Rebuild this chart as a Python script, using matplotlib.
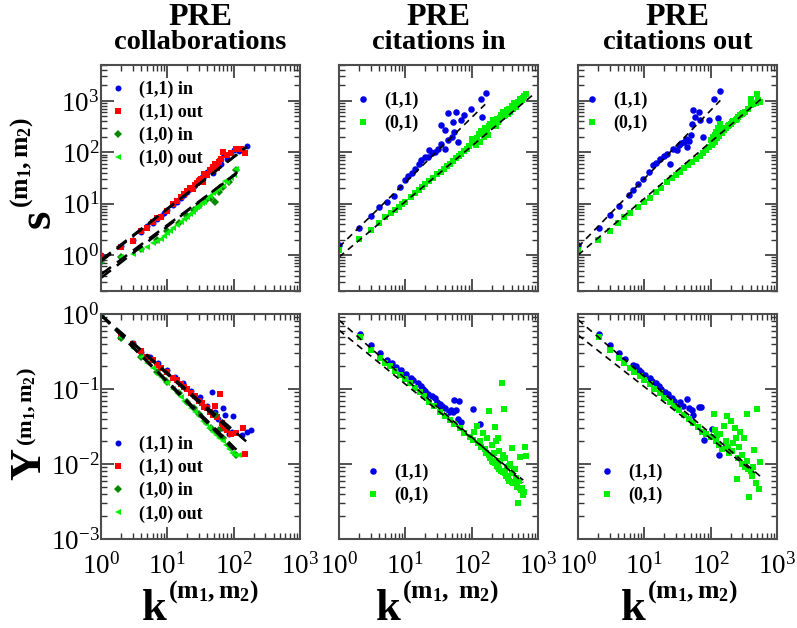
import numpy as np
import matplotlib.pyplot as plt

plt.rcParams['font.family'] = 'Liberation Serif'
plt.rcParams['mathtext.fontset'] = 'custom'
plt.rcParams['mathtext.rm'] = 'Liberation Serif'
plt.rcParams['mathtext.it'] = 'Liberation Serif:italic'
plt.rcParams['mathtext.bf'] = 'Liberation Serif:bold'

BLUE = '#0000e6'
RED = '#ff0000'
DKGREEN = '#008800'
LTGREEN = '#00f000'

# ---------------- top left: collaborations, s vs k ----------------
col_s11in_k = [1, 2, 3, 4, 5, 6, 7, 8, 9, 10, 12, 14, 16, 18, 20, 22, 25, 28, 30, 33,
               36, 40, 44, 48, 52, 56, 60, 65, 70, 80, 100, 120, 160]
col_s11in_s = [1.0, 1.5, 2.0, 2.8, 3.6, 4.3, 5.0, 5.8, 6.5, 7.5, 9.5, 11, 13, 15, 17, 19, 22, 26, 30, 33,
               35, 42, 48, 40, 55, 62, 70, 58, 95, 75, 110, 105, 130]
col_s11out_k = [1, 2, 3, 4, 5, 6, 7, 8, 10, 12, 14, 16, 18, 20, 22, 24, 26, 28, 30, 32,
                34, 36, 40, 44, 48, 52, 56, 60, 65, 70, 80, 90, 110, 130, 150]
col_s11out_s = [0.95, 1.45, 1.9, 2.9, 3.4, 4.4, 5.2, 5.6, 7.2, 9.8, 11.5, 13.5, 15.5, 18, 20, 19, 23, 25, 28, 30,
                27, 38, 36, 45, 52, 58, 50, 66, 75, 100, 88, 95, 115, 118, 95]
col_s10in_k = [1, 2, 4, 7, 10, 15, 20, 25, 30, 38, 45, 52, 60, 70, 85, 110]
col_s10in_s = [0.75, 0.9, 1.3, 2.0, 2.9, 4.2, 5.8, 7.5, 9.0, 12, 13, 10.8, 17, 21, 26, 45]
col_s10out_k = [1, 2, 3, 4, 5, 6, 7, 8, 9, 10, 11, 12, 14, 16, 18, 20, 22, 24, 26, 28,
                30, 33, 36, 40, 44, 48, 52, 56, 60, 65, 70, 75, 80, 90, 100, 110]
col_s10out_s = [0.8, 0.92, 1.05, 1.25, 1.45, 1.7, 1.9, 2.1, 2.4, 2.7, 3.0, 3.3, 3.8, 4.5, 5.0, 5.6, 6.3, 7.0, 7.8, 8.5,
                9.2, 10.5, 11, 13, 14, 16, 18, 19, 20, 23, 22, 28, 26, 32, 36, 48]

# ---------------- top middle: citations in, s vs k ----------------
cin_s11_k = [1, 2, 3, 4, 5.3, 6.7, 8.2, 9.8, 11, 12.5, 14, 16, 17.5, 19.6, 22, 23, 25, 27.7, 31, 35,
             35, 39, 39, 44, 44, 50, 52, 55, 59, 62, 70, 78, 99, 140, 143, 163]
cin_s11_s = [1.6, 3.4, 5.7, 8.6, 10.8, 13.9, 21, 28.5, 34, 40, 48, 60, 70, 81, 81, 110, 95, 101, 118, 148,
             337, 118, 270, 172, 570, 200, 390, 250, 615, 158, 420, 530, 710, 1070, 475, 1450]
cin_s01_k = [1, 2, 3, 4, 5, 6, 7, 8, 9, 10, 12, 14, 16, 18, 20, 23, 26, 30, 34, 38,
             42, 47, 52, 58, 64, 70, 77, 85, 92, 100, 100, 110, 120, 130, 140, 150, 160, 170, 180, 190,
             200, 210, 220, 240, 260, 280, 300, 320, 340, 360, 380, 400, 430, 460, 500, 530, 580, 620, 670,
             115, 135, 155, 175, 230, 250, 270, 290, 310, 350, 420, 450, 480, 550, 600]
cin_s01_s = [1.25, 2.1, 3.1, 4.2, 5.4, 6.5, 7.5, 8.8, 10, 11, 13.5, 16, 18.5, 21, 24, 28, 32, 37, 42, 48,
             53, 60, 67, 76, 85, 94, 105, 118, 130, 150, 185, 170, 190, 230, 260, 240, 300, 280, 330, 360,
             320, 420, 380, 450, 420, 520, 600, 540, 650, 700, 620, 800, 890, 760, 950, 1100, 1020, 1250, 1380,
             140, 160, 200, 220, 330, 390, 470, 480, 500, 560, 700, 820, 850, 1000, 1150]

# ---------------- top right: citations out, s vs k ----------------
cout_s11_k = [1, 2.05, 3, 4.1, 5.8, 6.8, 8.1, 9.5, 11.6, 13.5, 15, 17, 20, 22, 24.5, 27, 31, 33, 36, 39,
              42, 44, 47, 50, 52, 55, 59, 66, 70, 77, 94, 111, 131, 136]
cout_s11_s = [1.55, 3.4, 5.9, 8.9, 14.5, 18.2, 23.9, 30.7, 41, 56, 62, 75, 85, 94, 60, 118, 110, 137, 150, 159,
              180, 127, 165, 215, 360, 660, 490, 615, 420, 200, 420, 1110, 455, 1570]
cout_s01_k = [1, 2, 3, 4, 5, 6, 8, 10, 12, 15, 18, 22, 26, 30, 35, 40, 46, 52, 60, 68,
              76, 85, 95, 100, 105, 110, 115, 120, 125, 130, 135, 140, 150, 160, 170, 180, 200, 220, 240, 260,
              280, 300, 330, 360, 400, 400, 450, 500, 550, 520, 108, 118, 128, 145, 190, 210, 250, 310, 430, 480]
cout_s01_s = [1.25, 2.0, 3.0, 4.3, 5.4, 6.5, 8.6, 11, 13, 17, 20, 26, 31, 36, 42, 49, 56, 64, 75, 86,
              98, 110, 125, 170, 140, 200, 160, 250, 190, 300, 210, 350, 240, 270, 300, 320, 360, 400, 430, 480,
              520, 560, 620, 700, 820, 1110, 900, 1350, 960, 1050, 150, 220, 270, 260, 340, 380, 450, 590, 850, 920]

# ---------------- bottom left: collaborations, Y vs k ----------------
col_y11in_k = [1, 2, 3, 4, 5.5, 7.3, 9.8, 13, 17.5, 23, 31, 39, 47, 52, 59, 66, 70, 74, 84, 93,
               99, 132, 157, 180]
col_y11in_y = [0.97, 0.5, 0.41, 0.31, 0.27, 0.22, 0.18, 0.146, 0.12, 0.095, 0.078, 0.06, 0.092, 0.05, 0.04, 0.03, 0.055, 0.045, 0.025, 0.027,
               0.043, 0.024, 0.027, 0.028]
col_y11out_k = [1, 2, 3, 4, 5, 6, 7, 8, 10, 12, 14, 16, 18, 20, 23, 26, 30, 33, 36, 40,
                44, 48, 52, 56, 62, 66, 70, 80, 90, 110, 140, 150]
col_y11out_y = [0.95, 0.5, 0.4, 0.32, 0.27, 0.24, 0.21, 0.19, 0.17, 0.14, 0.13, 0.115, 0.105, 0.1, 0.088, 0.08, 0.07, 0.065, 0.058, 0.055,
                0.05, 0.045, 0.06, 0.042, 0.086, 0.035, 0.03, 0.028, 0.025, 0.026, 0.03, 0.0137]
col_y10in_k = [1, 2, 4, 7, 10, 15, 20, 25, 30, 38, 45, 52, 60, 70, 85, 110]
col_y10in_y = [0.95, 0.48, 0.27, 0.17, 0.125, 0.088, 0.067, 0.055, 0.046, 0.036, 0.03, 0.045, 0.028, 0.022, 0.018, 0.013]
col_y10out_k = [1, 2, 3, 4, 5, 6, 7, 8, 9, 10, 12, 14, 16, 18, 20, 23, 26, 30, 34, 38,
                43, 48, 54, 60, 68, 76, 85, 95, 105, 120]
col_y10out_y = [0.97, 0.5, 0.35, 0.27, 0.22, 0.19, 0.16, 0.145, 0.13, 0.12, 0.1, 0.088, 0.078, 0.07, 0.063, 0.055, 0.049, 0.043, 0.038, 0.034,
                0.03, 0.027, 0.024, 0.022, 0.02, 0.018, 0.016, 0.014, 0.013, 0.013]

# ---------------- bottom middle: citations in, Y vs k ----------------
cin_y11_k = [2.05, 3, 4.1, 5.35, 6.2, 7.3, 8.7, 10.4, 12, 13, 15.5, 17, 18.5, 20, 22, 25, 27.7, 30, 33, 36,
             39, 45, 49.6, 52, 55, 59, 62, 64, 70, 105, 132]
cin_y11_y = [0.54, 0.39, 0.3, 0.244, 0.22, 0.195, 0.18, 0.16, 0.14, 0.13, 0.12, 0.11, 0.1, 0.095, 0.087, 0.08, 0.075, 0.068, 0.063, 0.06,
             0.055, 0.05, 0.052, 0.05, 0.071, 0.052, 0.04, 0.07, 0.036, 0.054, 0.034]
cin_y01_k = [1, 2.05, 3, 4.1, 5, 5.8, 7, 8.2, 10, 11.7, 14, 16.5, 19, 23, 27, 33, 39, 47, 55, 66,
             78, 93, 105, 125, 140, 165, 180, 190, 200, 210, 222, 240, 250, 260, 280, 290, 300, 310, 315, 330,
             350, 370, 400, 420, 447, 480, 500, 530, 560, 600, 630, 670, 120, 150, 182, 222, 230, 250, 400, 530,
             170, 200, 260, 320, 380, 450, 110, 135, 160, 215, 270, 340, 410, 470, 520, 580, 300, 360, 440, 620]
cin_y01_y = [1.07, 0.5, 0.33, 0.256, 0.22, 0.2, 0.175, 0.154, 0.135, 0.12, 0.104, 0.092, 0.08, 0.068, 0.06, 0.05, 0.044, 0.039, 0.034, 0.03,
             0.026, 0.023, 0.021, 0.019, 0.017, 0.014, 0.013, 0.012, 0.011, 0.0105, 0.0102, 0.0095, 0.009, 0.0085, 0.008, 0.119, 0.0078, 0.054, 0.0076, 0.007,
             0.0065, 0.006, 0.0058, 0.0055, 0.0055, 0.005, 0.003, 0.0048, 0.0045, 0.0039, 0.017, 0.0129, 0.032, 0.026, 0.051, 0.031, 0.02, 0.022, 0.0165, 0.0124,
             0.022, 0.018, 0.015, 0.012, 0.010, 0.0085, 0.027, 0.02, 0.016, 0.014, 0.011, 0.009, 0.0075, 0.0065, 0.006, 0.0048, 0.013, 0.0095, 0.0085, 0.0042]

# ---------------- bottom right: citations out, Y vs k ----------------
cout_y11_k = [2.05, 3, 4.1, 5.2, 6.7, 7.5, 8.2, 9, 10.4, 12, 13, 15, 16.5, 18, 20.5, 23, 26, 28, 31, 35,
              38, 44, 47, 52, 55, 66, 72, 79, 105, 133]
cout_y11_y = [0.54, 0.39, 0.3, 0.25, 0.21, 0.2, 0.18, 0.17, 0.155, 0.14, 0.127, 0.12, 0.11, 0.1, 0.09, 0.085, 0.075, 0.07, 0.058, 0.068,
              0.06, 0.073, 0.055, 0.052, 0.045, 0.058, 0.058, 0.021, 0.029, 0.0132]
cout_y01_k = [1, 2.05, 3, 4.1, 5, 6, 7, 8.5, 10, 12, 14, 17, 20, 24, 28, 33, 40, 47, 55, 65,
              75, 85, 100, 111, 120, 135, 150, 160, 176, 190, 200, 220, 245, 260, 280, 300, 330, 355, 380, 400,
              450, 500, 530, 560, 140, 170, 210, 250, 300, 350, 420, 480, 230, 270, 320, 115, 125, 180, 370, 440]
cout_y01_y = [1.07, 0.5, 0.33, 0.26, 0.22, 0.19, 0.17, 0.15, 0.13, 0.115, 0.1, 0.088, 0.077, 0.067, 0.06, 0.052, 0.045, 0.04, 0.035, 0.031,
              0.027, 0.025, 0.023, 0.046, 0.02, 0.018, 0.016, 0.032, 0.044, 0.014, 0.038, 0.019, 0.022, 0.012, 0.027, 0.01, 0.009, 0.047, 0.0036, 0.008,
              0.0154, 0.054, 0.0047, 0.0108, 0.025, 0.02, 0.015, 0.0064, 0.013, 0.011, 0.007, 0.0055, 0.03, 0.017, 0.022, 0.028, 0.024, 0.017, 0.0085, 0.009]

# fitted power laws: (prefactor, exponent, k_min, k_max)
fits_col_s = [(0.80, 1.00, 1, 160), (0.75, 1.02, 1, 150), (0.36, 1.00, 1, 115), (0.42, 0.96, 1, 110)]
fits_cin_s = [(1.43, 1.26, 1, 160), (0.91, 1.08, 1, 900)]
fits_cout_s = [(1.43, 1.33, 1, 140), (1.00, 1.10, 1, 600)]
fits_col_y = [(0.97, -0.77, 1, 160), (0.97, -0.79, 1, 105), (0.97, -0.90, 1, 100), (0.97, -0.88, 1, 110)]
fits_cin_y = [(0.83, -0.78, 1, 600), (0.61, -0.72, 1, 600)]
fits_cout_y = [(0.84, -0.76, 1, 600), (0.525, -0.69, 1, 460)]

titles = ['collaborations', 'citations in', 'citations out']
k_sups = [r'$\mathbf{(m_1,m_2)}$', r'$\mathbf{(m_1,\ m_2)}$', r'$\mathbf{(m_1,m_2)}$']

fig = plt.figure(figsize=(7.97, 6.28), dpi=100)
lefts = [0.1267, 0.4253, 0.7252]
axes_top = [fig.add_axes([l, 0.5366, 0.2497, 0.360]) for l in lefts]
axes_bot = [fig.add_axes([l, 0.1417, 0.2497, 0.3583]) for l in lefts]


def pts(ax, k, y, color, marker, ms, label):
    ax.plot(k, y, ls='none', marker=marker, color=color, ms=ms, mew=0, label=label)


def fitlines(ax, fits, lw, dash):
    for a, b, k0, k1 in fits:
        kk = np.logspace(np.log10(k0), np.log10(k1), 50)
        ax.plot(kk, a * kk ** b, color='black', lw=lw, ls=(0, dash))


# top row
ax = axes_top[0]
pts(ax, col_s11in_k, col_s11in_s, BLUE, 'o', 4.3, '(1,1) in')
pts(ax, col_s11out_k, col_s11out_s, RED, 's', 4.2, '(1,1) out')
pts(ax, col_s10in_k, col_s10in_s, DKGREEN, 'D', 3.6, '(1,0) in')
pts(ax, col_s10out_k, col_s10out_s, LTGREEN, '<', 4.8, '(1,0) out')
fitlines(ax, fits_col_s, 1.8, (5, 3))

ax = axes_top[1]
pts(ax, cin_s11_k, cin_s11_s, BLUE, 'o', 4.7, '(1,1)')
pts(ax, cin_s01_k, cin_s01_s, LTGREEN, 's', 4.4, '(0,1)')
fitlines(ax, fits_cin_s, 1.2, (4, 3))

ax = axes_top[2]
pts(ax, cout_s11_k, cout_s11_s, BLUE, 'o', 4.7, '(1,1)')
pts(ax, cout_s01_k, cout_s01_s, LTGREEN, 's', 4.4, '(0,1)')
fitlines(ax, fits_cout_s, 1.2, (4, 3))

# bottom row
ax = axes_bot[0]
pts(ax, col_y11in_k, col_y11in_y, BLUE, 'o', 4.3, '(1,1) in')
pts(ax, col_y11out_k, col_y11out_y, RED, 's', 4.2, '(1,1) out')
pts(ax, col_y10in_k, col_y10in_y, DKGREEN, 'D', 3.6, '(1,0) in')
pts(ax, col_y10out_k, col_y10out_y, LTGREEN, '<', 4.8, '(1,0) out')
fitlines(ax, fits_col_y, 1.8, (5, 3))

ax = axes_bot[1]
pts(ax, cin_y11_k, cin_y11_y, BLUE, 'o', 4.7, '(1,1)')
pts(ax, cin_y01_k, cin_y01_y, LTGREEN, 's', 4.4, '(0,1)')
fitlines(ax, fits_cin_y, 1.2, (4, 3))

ax = axes_bot[2]
pts(ax, cout_y11_k, cout_y11_y, BLUE, 'o', 4.7, '(1,1)')
pts(ax, cout_y01_k, cout_y01_y, LTGREEN, 's', 4.4, '(0,1)')
fitlines(ax, fits_cout_y, 1.2, (4, 3))

# formatting
for i, ax in enumerate(axes_top + axes_bot):
    ax.set_xscale('log')
    ax.set_yscale('log')
    ax.set_xlim(1, 1000)
    for sp in ax.spines.values():
        sp.set_linewidth(1.5)
        sp.set_color('0.3')
    ax.tick_params(which='both', direction='in', top=True, right=True, colors='0.2', labelcolor='black')
    ax.tick_params(which='major', length=9, width=1.2, labelsize=19.5, pad=1)
    ax.tick_params(which='minor', length=4.5, width=1.0)
    ax.tick_params(axis='x', pad=10)
    if ax in axes_top:
        ax.set_ylim(0.2, 5000)
        ax.tick_params(labelbottom=False)
    else:
        ax.set_ylim(1e-3, 1)
    if i % 3 != 0:
        ax.tick_params(labelleft=False)

for ax, t in zip(axes_top, titles):
    ax.text(0.5, 1.177, 'PRE', transform=ax.transAxes, ha='center', va='baseline',
            fontsize=23, fontweight='bold')
    ax.text(0.5, 1.071, t, transform=ax.transAxes, ha='center', va='baseline',
            fontsize=20.5, fontweight='bold')

leg_kw = dict(loc='upper left', frameon=False, prop={'weight': 'bold', 'size': 13},
              handlelength=0.8, handletextpad=0.75, labelspacing=0.32, borderpad=0, borderaxespad=0)
axes_top[0].legend(bbox_to_anchor=(0.05, 0.93), **leg_kw)
axes_top[1].legend(bbox_to_anchor=(0.085, 0.88), **leg_kw)
axes_top[2].legend(bbox_to_anchor=(0.035, 0.88), **leg_kw)
axes_bot[0].legend(bbox_to_anchor=(0.05, 0.458), **leg_kw)
axes_bot[1].legend(bbox_to_anchor=(0.136, 0.333), **leg_kw)
axes_bot[2].legend(bbox_to_anchor=(0.11, 0.333), **leg_kw)

# axis labels: big letter plus smaller superscript
lab = dict(ha='left', va='baseline', rotation=90, rotation_mode='anchor', fontweight='bold')
ax = axes_top[0]
ax.text(-0.256, 0.279, 's', transform=ax.transAxes, fontsize=34, **lab)
ax.text(-0.367, 0.367, k_sups[0], transform=ax.transAxes, fontsize=18.5, **lab)
ax = axes_bot[0]
ax.text(-0.307, 0.262, 'Y', transform=ax.transAxes, fontsize=32, **lab)
ax.text(-0.342, 0.413, k_sups[0], transform=ax.transAxes, fontsize=16, **lab)

k_split = [0.337, 0.317, 0.347]
for ax, xs, sup in zip(axes_bot, k_split, k_sups):
    ax.text(xs - 0.005, -0.36, 'k', transform=ax.transAxes, ha='right', va='baseline',
            fontsize=32, fontweight='bold')
    ax.text(xs, -0.262, sup, transform=ax.transAxes, ha='left', va='baseline', fontsize=18.5)

fig.savefig('out.png', dpi=100)
